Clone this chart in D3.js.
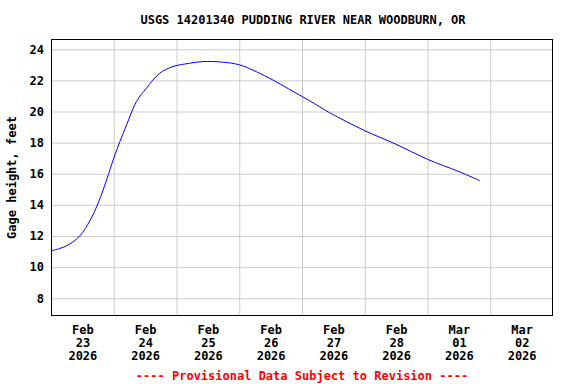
<!DOCTYPE html>
<html lang="en">
<head>
  <meta charset="UTF-8">
  <title>USGS 14201340 Pudding River near Woodburn</title>
  <style>
    body { margin: 0; background: #fff; }
    text { font-family: "DejaVu Sans Mono", "Liberation Mono", monospace; font-weight: bold; }
  </style>
</head>
<body>
  <script src="https://d3js.org/d3.v7.min.js"></script>
  <script>
    // gage height readings (time, feet)
    const times = [
      '2026-02-23T00:00', '2026-02-23T03:25', '2026-02-23T07:15', '2026-02-23T11:05',
      '2026-02-23T14:55', '2026-02-23T18:00', '2026-02-23T21:15', '2026-02-24T00:00',
      '2026-02-24T02:20', '2026-02-24T04:55', '2026-02-24T08:40', '2026-02-24T12:30',
      '2026-02-24T17:35', '2026-02-24T22:40', '2026-02-25T05:00', '2026-02-25T10:05',
      '2026-02-25T17:45', '2026-02-26T00:05', '2026-02-26T06:30', '2026-02-26T12:50',
      '2026-02-26T18:55', '2026-02-27T02:50', '2026-02-27T10:30', '2026-02-28T00:00',
      '2026-02-28T11:55', '2026-03-01T00:00', '2026-03-01T12:00', '2026-03-01T20:00'
    ];
    const heights = [
      11.06, 11.2, 11.49, 12.02,
      12.99, 14.1, 15.6, 17.0,
      18.06, 19.14, 20.64, 21.5,
      22.46, 22.89, 23.1, 23.21,
      23.17, 23.0, 22.56, 22.03,
      21.45, 20.7, 19.93, 18.77,
      17.9, 16.93, 16.14, 15.56
    ];
    const yTicks = [8, 10, 12, 14, 16, 18, 20, 22, 24];
    const dayLabels = ['2026-02-23', '2026-02-24', '2026-02-25', '2026-02-26',
                       '2026-02-27', '2026-02-28', '2026-03-01', '2026-03-02'];

    const width = 576, height = 384;
    const margin = { top: 39, right: 23, bottom: 68, left: 51 };
    const parse = d3.timeParse('%Y-%m-%dT%H:%M');
    const parseDay = d3.timeParse('%Y-%m-%d');

    const data = times.map((t, i) => ({ t: parse(t), v: heights[i] }));
    const days = dayLabels.map(parseDay);

    const svg = d3.select('body').append('svg')
      .attr('width', width)
      .attr('height', height);

    const x = d3.scaleTime()
      .domain([days[0], d3.timeDay.offset(days[days.length - 1], 1)])
      .range([margin.left, width - margin.right]);
    const y = d3.scaleLinear()
      .domain([6.86, 24.66])
      .range([height - margin.bottom, margin.top]);

    const plotW = width - margin.left - margin.right;
    const plotH = height - margin.top - margin.bottom;

    // grid
    svg.append('g')
      .attr('transform', `translate(0,${height - margin.bottom})`)
      .call(d3.axisBottom(x).tickValues(days.slice(1)).tickSize(-plotH).tickFormat(''))
      .call(g => g.select('.domain').remove())
      .call(g => g.selectAll('line').attr('stroke', '#cccccc'));
    svg.append('g')
      .attr('transform', `translate(${margin.left},0)`)
      .call(d3.axisLeft(y).tickValues(yTicks).tickSize(-plotW).tickFormat(''))
      .call(g => g.select('.domain').remove())
      .call(g => g.selectAll('line').attr('stroke', '#cccccc'));

    // y labels
    svg.append('g')
      .attr('transform', `translate(${margin.left},0)`)
      .call(d3.axisLeft(y).tickValues(yTicks).tickSize(0).tickPadding(7))
      .call(g => g.select('.domain').remove())
      .call(g => g.selectAll('text').attr('font-size', 12).attr('fill', '#000'));

    // x labels, centred on each day
    const fmtMon = d3.timeFormat('%b'), fmtDay = d3.timeFormat('%d'), fmtYr = d3.timeFormat('%Y');
    svg.append('g')
      .attr('transform', `translate(0,${height - margin.bottom})`)
      .call(d3.axisBottom(x).tickValues(days.map(d => d3.timeHour.offset(d, 12))).tickSize(0).tickFormat(''))
      .call(g => g.select('.domain').remove())
      .call(g => g.selectAll('.tick').each(function (d) {
        const t = d3.select(this).select('text')
          .attr('font-size', 12).attr('fill', '#000').attr('y', 0).attr('dy', null);
        [fmtMon(d), fmtDay(d), fmtYr(d)].forEach((s, i) => {
          t.append('tspan').attr('x', 0).attr('y', 18 + i * 13).text(s);
        });
      }));

    // frame
    svg.append('rect')
      .attr('x', margin.left + 0.5)
      .attr('y', margin.top + 0.5)
      .attr('width', plotW - 1)
      .attr('height', plotH - 1)
      .attr('fill', 'none')
      .attr('stroke', '#000');

    // line
    svg.append('path')
      .datum(data)
      .attr('fill', 'none')
      .attr('stroke', '#0000ff')
      .attr('stroke-width', 1)
      .attr('d', d3.line().x(d => x(d.t)).y(d => y(d.v)).curve(d3.curveCatmullRom.alpha(0.5)));

    // titles
    svg.append('text')
      .attr('x', 303).attr('y', 24)
      .attr('text-anchor', 'middle')
      .attr('font-size', 12)
      .text('USGS 14201340 PUDDING RIVER NEAR WOODBURN, OR');
    svg.append('text')
      .attr('transform', `translate(16,${(margin.top + height - margin.bottom) / 2}) rotate(-90)`)
      .attr('text-anchor', 'middle')
      .attr('font-size', 12)
      .text('Gage height, feet');
    svg.append('text')
      .attr('x', 302).attr('y', 380)
      .attr('text-anchor', 'middle')
      .attr('font-size', 12)
      .attr('fill', '#ff0000')
      .text('---- Provisional Data Subject to Revision ----');
  </script>
</body>
</html>
